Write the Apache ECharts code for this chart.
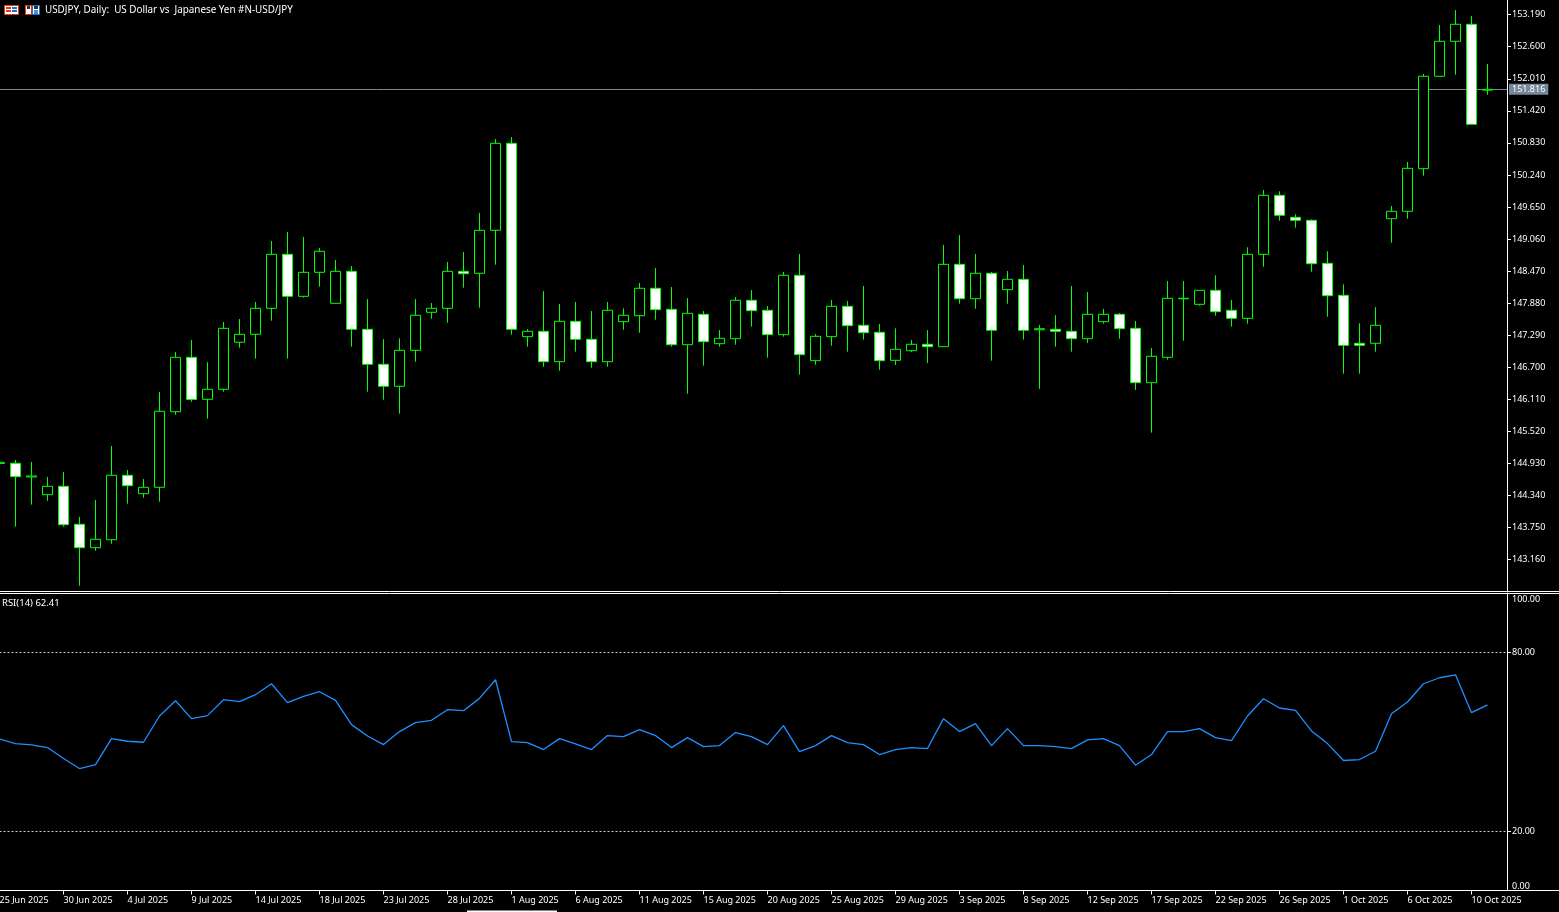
<!DOCTYPE html>
<html><head><meta charset="utf-8">
<style>html,body{margin:0;padding:0;background:#000}#c{width:1559px;height:912px}</style>
<script src="https://cdn.jsdelivr.net/npm/echarts@6/dist/echarts.min.js"></script>
</head><body><div id="c"></div>
<script>
const dates=["25 Jun 2025","26 Jun 2025","27 Jun 2025","29 Jun 2025","30 Jun 2025","1 Jul 2025","2 Jul 2025","3 Jul 2025","4 Jul 2025","6 Jul 2025","7 Jul 2025","8 Jul 2025","9 Jul 2025","10 Jul 2025","11 Jul 2025","13 Jul 2025","14 Jul 2025","15 Jul 2025","16 Jul 2025","17 Jul 2025","18 Jul 2025","20 Jul 2025","21 Jul 2025","22 Jul 2025","23 Jul 2025","24 Jul 2025","25 Jul 2025","27 Jul 2025","28 Jul 2025","29 Jul 2025","30 Jul 2025","31 Jul 2025","1 Aug 2025","3 Aug 2025","4 Aug 2025","5 Aug 2025","6 Aug 2025","7 Aug 2025","8 Aug 2025","10 Aug 2025","11 Aug 2025","12 Aug 2025","13 Aug 2025","14 Aug 2025","15 Aug 2025","17 Aug 2025","18 Aug 2025","19 Aug 2025","20 Aug 2025","21 Aug 2025","22 Aug 2025","24 Aug 2025","25 Aug 2025","26 Aug 2025","27 Aug 2025","28 Aug 2025","29 Aug 2025","31 Aug 2025","1 Sep 2025","2 Sep 2025","3 Sep 2025","4 Sep 2025","5 Sep 2025","7 Sep 2025","8 Sep 2025","9 Sep 2025","10 Sep 2025","11 Sep 2025","12 Sep 2025","14 Sep 2025","15 Sep 2025","16 Sep 2025","17 Sep 2025","18 Sep 2025","19 Sep 2025","21 Sep 2025","22 Sep 2025","23 Sep 2025","24 Sep 2025","25 Sep 2025","26 Sep 2025","28 Sep 2025","29 Sep 2025","30 Sep 2025","1 Oct 2025","2 Oct 2025","3 Oct 2025","5 Oct 2025","6 Oct 2025","7 Oct 2025","8 Oct 2025","9 Oct 2025","10 Oct 2025","12 Oct 2025"];
const dateTicks=[0,4,8,12,16,20,24,28,32,36,40,44,48,52,56,60,64,68,72,76,80,84,88,92];
const priceTicks=[143.16,143.75,144.34,144.93,145.52,146.11,146.70,147.29,147.88,148.47,149.06,149.65,150.24,150.83,151.42,152.01,152.60,153.19];
const rsiTicks=[0,20,80,100];
const bid=151.816;
const opens=[144.93,144.933,144.68,144.355,144.509,143.81,143.379,143.526,144.712,144.373,144.491,145.882,146.883,146.11,146.295,147.16,147.307,147.785,148.779,148.006,148.448,147.877,148.466,147.399,146.755,146.35,147.012,147.712,147.785,148.466,148.43,149.221,150.822,147.263,147.362,146.803,147.546,147.215,146.803,147.539,147.649,148.154,147.767,147.115,147.675,147.134,147.226,147.933,147.749,147.30,148.393,146.821,147.263,147.822,147.473,147.344,146.828,147.005,147.123,147.079,148.595,147.962,148.43,148.128,148.319,147.39,147.399,147.362,147.226,147.539,147.675,147.417,146.416,146.884,147.96,147.859,148.117,147.749,147.601,148.779,149.865,149.46,149.405,148.614,148.025,147.141,147.141,149.435,149.571,150.355,152.056,152.70,153.013,151.80];
const closes=[144.95,144.686,144.70,144.509,143.802,143.379,143.534,144.712,144.52,144.491,145.89,146.883,146.107,146.295,147.417,147.307,147.785,148.779,148.006,148.448,148.835,148.466,147.399,146.755,146.35,147.012,147.657,147.785,148.466,148.422,149.221,150.822,147.399,147.362,146.803,147.546,147.215,146.803,147.749,147.657,148.154,147.76,147.115,147.693,147.171,147.233,147.933,147.741,147.30,148.393,146.932,147.27,147.822,147.465,147.336,146.821,147.031,147.123,147.079,148.595,147.962,148.43,147.381,148.319,147.381,147.41,147.362,147.226,147.675,147.675,147.41,146.416,146.902,147.969,147.97,148.117,147.723,147.601,148.779,149.865,149.497,149.405,148.606,148.017,147.104,147.104,147.473,149.571,150.362,152.056,152.70,153.013,151.172,151.816];
const lows=[144.90,143.766,144.171,144.239,143.766,142.68,143.324,143.453,144.189,144.299,144.226,145.827,146.066,145.754,146.25,147.06,146.858,147.557,146.858,147.981,148.183,147.877,147.079,146.25,146.103,145.846,146.803,147.594,147.52,148.165,147.796,148.588,147.30,147.079,146.71,146.637,146.987,146.692,146.71,147.392,147.336,147.576,147.079,146.214,146.729,147.079,147.115,147.447,146.876,147.263,146.563,146.747,147.097,146.987,147.208,146.655,146.742,146.981,146.779,147.079,147.87,147.778,146.821,147.87,147.208,146.30,147.079,146.987,147.147,147.502,147.226,146.282,145.496,146.839,147.189,147.833,147.649,147.447,147.502,148.551,149.398,149.269,148.459,147.631,146.582,146.582,146.987,148.993,149.435,150.226,152.056,152.085,151.172,151.717];
const highs=[145.00,144.993,144.956,144.68,144.772,143.944,144.257,145.251,144.809,144.644,146.245,146.981,147.202,146.792,147.533,147.588,147.901,149.024,149.19,149.098,148.895,148.674,148.564,147.957,147.22,147.233,147.957,147.883,148.638,148.822,149.54,150.902,150.938,147.404,148.104,147.865,147.901,147.736,147.901,147.785,148.251,148.527,148.177,147.975,147.736,147.386,147.993,148.122,147.828,148.454,148.785,147.312,147.938,147.92,148.196,147.496,147.417,147.202,147.386,148.951,149.135,148.785,148.454,148.472,148.582,147.478,147.662,148.196,148.085,147.773,147.699,147.552,147.055,148.288,148.288,148.12,148.393,147.938,148.908,149.963,149.939,149.516,149.424,148.835,148.227,147.509,147.809,149.668,150.478,152.098,153.0,153.276,153.166,152.282];
const rsi=[50.95,49.38,48.94,48.04,44.35,41.0,42.34,51.06,50.17,49.83,58.66,63.8,57.77,58.77,64.13,63.47,65.81,69.5,63.13,65.25,66.81,63.91,55.75,51.95,49.05,53.41,56.42,57.21,60.78,60.45,64.58,70.84,50.05,49.72,47.37,51.06,49.27,47.37,52.07,51.73,54.08,52.07,48.04,51.39,48.38,48.71,53.07,51.73,49.05,55.42,46.70,48.71,52.07,49.72,49.05,45.70,47.37,48.04,47.71,57.76,53.41,56.09,48.71,54.41,48.71,48.71,48.38,47.71,50.61,51.06,48.71,42.12,45.70,53.41,53.41,54.41,51.39,50.39,58.66,64.47,61.34,60.56,53.63,49.38,43.69,44.02,46.81,59.44,63.35,69.5,71.51,72.51,59.77,62.41];

const FONT='"Noto Sans"';
const white='#ffffff';
const chart=echarts.init(document.getElementById('c'),null,{renderer:'canvas'});
const idx=dates.map((d,i)=>i);
const hLine=(y,x2)=>({type:'line',silent:true,z:50,shape:{x1:0,y1:y,x2:x2,y2:y},style:{stroke:white,lineWidth:1}});
const box=(x,y,w,h,fill,stroke)=>({type:'rect',silent:true,z:50,shape:{x,y,width:w,height:h},style:{fill:fill,stroke:stroke||null,lineWidth:1}});
chart.setOption({
 animation:false,
 backgroundColor:'#000',
 title:[
  {text:'USDJPY, Daily:  US Dollar vs  Japanese Yen #N-USD/JPY',left:45,top:5,padding:0,textStyle:{color:white,fontFamily:FONT,fontSize:9.85,fontWeight:'normal'}},
  {text:'RSI(14) 62.41',left:2,top:598,padding:0,textStyle:{color:white,fontFamily:FONT,fontSize:9.5,fontWeight:'normal'}}
 ],
 grid:[
  {left:-0.5,top:0,width:1507.5,height:591,outerBoundsMode:'none'},
  {left:-0.5,top:593,width:1507.5,height:297.5,outerBoundsMode:'none'}
 ],
 xAxis:[
  {type:'value',gridIndex:0,min:0,max:94.219,splitLine:{show:false},axisLine:{show:false,onZero:false},axisTick:{show:false},axisLabel:{show:false}},
  {type:'value',gridIndex:1,min:0,max:94.219,splitLine:{show:false},
   axisLine:{show:true,onZero:false,lineStyle:{color:white,width:1}},
   axisTick:{show:true,length:4,lineStyle:{color:white},customValues:dateTicks},
   axisLabel:{show:true,color:white,fontFamily:FONT,fontSize:9,margin:5,align:'left',hideOverlap:false,customValues:dateTicks,formatter:v=>dates[v]||''}}
 ],
 yAxis:[
  {type:'value',gridIndex:0,position:'right',min:142.582,max:153.46,scale:true,splitLine:{show:false},
   axisLine:{show:true,onZero:false,lineStyle:{color:white,width:1}},
   axisTick:{show:true,length:4,lineStyle:{color:white},customValues:priceTicks},
   axisLabel:{color:white,fontFamily:FONT,fontSize:9,margin:5,padding:[4,0,0,0],customValues:priceTicks,formatter:v=>v.toFixed(3)}},
  {type:'value',gridIndex:1,position:'right',min:0,max:100,splitLine:{show:false},
   axisLine:{show:true,onZero:false,lineStyle:{color:white,width:1}},
   axisTick:{show:true,length:4,lineStyle:{color:white},customValues:rsiTicks},
   axisLabel:{color:white,fontFamily:FONT,fontSize:9,margin:5,padding:[2,0,0,0],customValues:rsiTicks,verticalAlignMaxLabel:'top',verticalAlignMinLabel:'bottom',formatter:v=>v.toFixed(2)}}
 ],
 series:[
  {type:'line',name:'bid',xAxisIndex:0,yAxisIndex:0,data:[],z:1,silent:true,
   markLine:{silent:true,symbol:'none',z:1,animation:false,precision:3,
    lineStyle:{color:'#778899',type:'solid',width:1},
    label:{show:true,position:'end',distance:2,formatter:()=>bid.toFixed(3),color:white,backgroundColor:'#778899',fontFamily:FONT,fontSize:9,padding:[2,3,0,3]},
    data:[{yAxis:bid}]}},
  {type:'candlestick',name:'USDJPY',xAxisIndex:0,yAxisIndex:0,z:3,barWidth:10,silent:true,
   encode:{x:0,y:[1,2,3,4]},
   itemStyle:{color:'#000',color0:'#fff',borderColor:'#00ff00',borderColor0:'#00ff00',borderWidth:1},
   data:idx.map(i=>[i,opens[i],closes[i],lows[i],highs[i]])},
  {type:'line',name:'RSI(14)',xAxisIndex:1,yAxisIndex:1,symbol:'none',silent:true,
   lineStyle:{color:'#1e90ff',width:1.3},
   data:idx.map(i=>[i,rsi[i]]),
   markLine:{silent:true,symbol:'none',animation:false,label:{show:false},lineStyle:{color:'#c8c8c8',type:[2,2],width:1},data:[{yAxis:80},{yAxis:20}]}}
 ],
 graphic:[
  hLine(591.5,1559),hLine(593.5,1559),hLine(890.5,1559),
  box(467,910.5,90,1.5,white),
  box(4.5,5.5,14,9,'#ffffff','#e03818'),box(6,7,5,2,'#e03818'),box(6,10,5,2,'#e03818'),box(12,7,5,2,'#2070c0'),box(12,10,5,2,'#2070c0'),
  box(25.5,5.5,6,9,'#ffffff','#e03818'),box(27,6,3,3,'#303030'),box(32.5,5.5,7,9,'#ffffff','#2070c0'),box(34,6,4,3,'#303030'),box(34,10,4,4,'#4090e0')
 ]
});
</script></body></html>
